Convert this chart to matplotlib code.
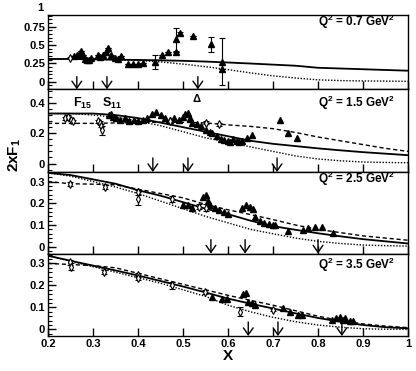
import matplotlib
matplotlib.use("Agg")
import matplotlib.pyplot as plt
from matplotlib.ticker import MultipleLocator

plt.rcParams['font.family'] = 'Liberation Sans'
plt.rcParams['font.weight'] = 'bold'
plt.rcParams['mathtext.fontset'] = 'custom'
plt.rcParams['mathtext.rm'] = 'Liberation Sans:bold'
plt.rcParams['mathtext.bf'] = 'Liberation Sans:bold'
plt.rcParams['mathtext.it'] = 'Liberation Sans:bold'

# ---- data ----
q2_labels = ["0.7", "1.5", "2.5", "3.5"]

curve_x = [0.2, 0.25, 0.3, 0.35, 0.4, 0.45, 0.5, 0.55, 0.6, 0.65, 0.7, 0.75, 0.8, 0.85, 0.9, 0.95, 1.0]

solid1 = [0.31, 0.31, 0.305, 0.30, 0.297, 0.292, 0.285, 0.275, 0.262, 0.248, 0.233, 0.218, 0.19, 0.18, 0.17, 0.16, 0.15]
dotted1 = [0.31, 0.31, 0.305, 0.30, 0.29, 0.27, 0.24, 0.205, 0.165, 0.12, 0.08, 0.05, 0.025, 0.015, 0.01, 0.008, 0.005]

solid2 = [0.33, 0.33, 0.33, 0.32, 0.30, 0.27, 0.24, 0.21, 0.18, 0.15, 0.13, 0.115, 0.10, 0.087, 0.075, 0.065, 0.055]
dashed2 = [0.265, 0.265, 0.265, 0.268, 0.27, 0.272, 0.272, 0.268, 0.255, 0.245, 0.23, 0.205, 0.175, 0.15, 0.125, 0.10, 0.08]
dotted2 = [0.33, 0.33, 0.32, 0.305, 0.28, 0.25, 0.21, 0.17, 0.14, 0.11, 0.08, 0.05, 0.03, 0.018, 0.01, 0.007, 0.005]

solid3 = [0.34, 0.33, 0.31, 0.29, 0.26, 0.235, 0.205, 0.175, 0.15, 0.12, 0.095, 0.078, 0.062, 0.048, 0.035, 0.025, 0.015]
dashed3 = [0.30, 0.29, 0.288, 0.285, 0.265, 0.245, 0.225, 0.195, 0.17, 0.148, 0.125, 0.10, 0.08, 0.065, 0.05, 0.04, 0.03]
dotted3 = [0.34, 0.325, 0.30, 0.275, 0.245, 0.21, 0.175, 0.14, 0.11, 0.08, 0.06, 0.04, 0.025, 0.015, 0.008, 0.005, 0.003]

solid4 = [0.335, 0.312, 0.29, 0.268, 0.245, 0.22, 0.195, 0.168, 0.14, 0.117, 0.095, 0.073, 0.052, 0.035, 0.02, 0.01, 0.005]
dashed4 = [0.30, 0.295, 0.29, 0.28, 0.255, 0.23, 0.205, 0.18, 0.155, 0.132, 0.11, 0.085, 0.06, 0.04, 0.025, 0.015, 0.008]
dotted4 = [0.335, 0.31, 0.285, 0.26, 0.235, 0.21, 0.18, 0.15, 0.11, 0.08, 0.055, 0.035, 0.02, 0.01, 0.003, 0.001, 0.0]

tri_x1 = [0.258, 0.264, 0.27, 0.274, 0.278, 0.282, 0.286, 0.29, 0.296, 0.31, 0.316, 0.322, 0.328, 0.334, 0.34,
          0.348, 0.355, 0.362, 0.378, 0.389, 0.40, 0.411, 0.438, 0.453, 0.467, 0.484, 0.484, 0.493, 0.522,
          0.562, 0.587, 0.587]
tri_y1 = [0.35, 0.37, 0.39, 0.42, 0.36, 0.31, 0.29, 0.30, 0.32, 0.36, 0.34, 0.37, 0.41, 0.46, 0.36,
          0.33, 0.31, 0.35, 0.24, 0.24, 0.24, 0.26, 0.27, 0.36, 0.40, 0.58, 0.41, 0.66, 0.62,
          0.51, 0.27, 0.17]
tri_e1 = [0, 0, 0, 0, 0, 0, 0, 0, 0, 0, 0, 0, 0, 0, 0,
          0, 0, 0, 0, 0, 0, 0, 0.09, 0, 0, 0.16, 0, 0.02, 0,
          0.1, 0.32, 0]
dia_x1 = [0.249]
dia_y1 = [0.33]
dia_e1 = [0.01]

tri_x2 = [0.335, 0.34, 0.345, 0.35, 0.36, 0.37, 0.38, 0.39, 0.40, 0.41, 0.42, 0.43, 0.44, 0.45, 0.46,
          0.47, 0.48, 0.49, 0.50, 0.505, 0.51, 0.515, 0.52, 0.53, 0.54, 0.55, 0.56, 0.565, 0.575,
          0.585, 0.59, 0.60, 0.605, 0.61, 0.62, 0.625, 0.63, 0.642, 0.653, 0.716, 0.734, 0.753]
tri_y2 = [0.32, 0.33, 0.31, 0.30, 0.29, 0.30, 0.28, 0.29, 0.28, 0.29, 0.30, 0.33, 0.34, 0.32, 0.30,
          0.29, 0.30, 0.29, 0.31, 0.33, 0.335, 0.30, 0.27, 0.26, 0.245, 0.22, 0.21, 0.20, 0.18,
          0.16, 0.155, 0.15, 0.145, 0.16, 0.15, 0.14, 0.15, 0.17, 0.19, 0.29, 0.20, 0.17]
dia_x2 = [0.238, 0.244, 0.25, 0.256, 0.31, 0.316, 0.318, 0.32, 0.47, 0.55, 0.58]
dia_y2 = [0.30, 0.31, 0.29, 0.28, 0.28, 0.27, 0.25, 0.22, 0.28, 0.27, 0.26]
dia_e2 = [0.01, 0.01, 0.01, 0.01, 0.01, 0.01, 0.01, 0.03, 0.01, 0.01, 0.01]

tri_x3 = [0.50, 0.51, 0.52, 0.545, 0.55, 0.555, 0.56, 0.57, 0.58, 0.59, 0.60, 0.632, 0.64, 0.648,
          0.655, 0.66, 0.67, 0.68, 0.69, 0.70, 0.705, 0.733, 0.767, 0.778, 0.793, 0.808, 0.834]
tri_y3 = [0.19, 0.19, 0.18, 0.23, 0.24, 0.21, 0.19, 0.18, 0.17, 0.16, 0.15, 0.18, 0.19, 0.185,
          0.175, 0.135, 0.12, 0.11, 0.105, 0.10, 0.10, 0.072, 0.077, 0.085, 0.09, 0.092, 0.062]
dia_x3 = [0.249, 0.327, 0.40, 0.40, 0.475, 0.535, 0.55]
dia_y3 = [0.288, 0.276, 0.25, 0.22, 0.22, 0.185, 0.18]
dia_e3 = [0.01, 0.01, 0.01, 0.03, 0.015, 0.01, 0.015]

tri_x4 = [0.564, 0.587, 0.598, 0.634, 0.64, 0.645, 0.653, 0.66, 0.723, 0.738, 0.756, 0.764,
          0.83, 0.84, 0.848, 0.855, 0.86, 0.87, 0.877]
tri_y4 = [0.148, 0.14, 0.138, 0.16, 0.165, 0.125, 0.118, 0.11, 0.098, 0.08, 0.065, 0.065,
          0.045, 0.05, 0.055, 0.045, 0.05, 0.04, 0.04]
dia_x4 = [0.248, 0.25, 0.325, 0.40, 0.40, 0.475, 0.549, 0.627, 0.70]
dia_y4 = [0.305, 0.285, 0.262, 0.247, 0.233, 0.20, 0.171, 0.08, 0.088]
dia_e4 = [0.01, 0.015, 0.01, 0.01, 0.01, 0.015, 0.01, 0.02, 0.005]

arrows1 = [0.264, 0.331, 0.533]
arrows2 = [0.433, 0.511, 0.709]
arrows3 = [0.562, 0.638, 0.80]
arrows4 = [0.645, 0.711, 0.853]

xtick_vals = [0.2, 0.3, 0.4, 0.5, 0.6, 0.7, 0.8, 0.9, 1.0]
xtick_text = ["0.2", "0.3", "0.4", "0.5", "0.6", "0.7", "0.8", "0.9", "1"]

panels = [
    dict(solid=solid1, dashed=None, dotted=dotted1, tx=tri_x1, ty=tri_y1, te=tri_e1,
         dx=dia_x1, dy=dia_y1, de=dia_e1, arrows=arrows1,
         ylim=(-0.104, 0.911), minor=0.05, yticks=[0, 0.25, 0.5, 0.75],
         ylabels=["0", "0.25", "0.5", "0.75"], box=(0.1154, 0.7593, 0.8654, 0.2003), qy=0.906),
    dict(solid=solid2, dashed=dashed2, dotted=dotted2, tx=tri_x2, ty=tri_y2, te=None,
         dx=dia_x2, dy=dia_y2, de=dia_e2, arrows=arrows2,
         ylim=(-0.056, 0.49), minor=0.04, yticks=[0, 0.2, 0.4],
         ylabels=["0", "0.2", "0.4"], box=(0.1154, 0.5364, 0.8654, 0.2229), qy=0.834),
    dict(solid=solid3, dashed=dashed3, dotted=dotted3, tx=tri_x3, ty=tri_y3, te=None,
         dx=dia_x3, dy=dia_y3, de=dia_e3, arrows=arrows3,
         ylim=(-0.031, 0.344), minor=0.02, yticks=[0, 0.1, 0.2, 0.3],
         ylabels=["0", "0.1", "0.2", "0.3"], box=(0.1154, 0.3167, 0.8654, 0.2197), qy=0.914),
    dict(solid=solid4, dashed=dashed4, dotted=dotted4, tx=tri_x4, ty=tri_y4, te=None,
         dx=dia_x4, dy=dia_y4, de=dia_e4, arrows=arrows4,
         ylim=(-0.03, 0.345), minor=0.02, yticks=[0, 0.1, 0.2, 0.3],
         ylabels=["0", "0.1", "0.2", "0.3"], box=(0.1154, 0.0943, 0.8654, 0.2224), qy=0.86),
]

fig = plt.figure(figsize=(4.16, 3.71), dpi=100)

for i, p in enumerate(panels):
    ax = fig.add_axes(p['box'])
    ax.set_xlim(0.2, 1.0)
    ax.set_ylim(*p['ylim'])

    ax.plot(curve_x, p['solid'], color='black', lw=1.3, zorder=2)
    if p['dashed'] is not None:
        ax.plot(curve_x, p['dashed'], color='black', lw=1.0, dashes=(3, 2), zorder=2)
    ax.plot(curve_x, p['dotted'], color='black', lw=1.0, ls=(0, (1, 1.2)), zorder=2)

    if p['te'] is not None:
        ax.errorbar(p['tx'], p['ty'], yerr=p['te'], fmt='^', color='black', ms=5,
                    capsize=2.5, elinewidth=0.8, capthick=0.8, zorder=3)
    else:
        ax.plot(p['tx'], p['ty'], '^', color='black', ms=5, zorder=3)
    ax.errorbar(p['dx'], p['dy'], yerr=p['de'], fmt='d', color='black', mfc='white',
                ms=4, mew=0.8, capsize=2.2, elinewidth=0.8, capthick=0.8, zorder=4)

    for xa in p['arrows']:
        ax.annotate('', xy=(xa, 0.0), xycoords=('data', 'axes fraction'),
                    xytext=(xa, 0.17), textcoords=('data', 'axes fraction'),
                    arrowprops=dict(arrowstyle='->, head_length=0.5, head_width=0.35',
                                    color='black', lw=1.0, shrinkA=0, shrinkB=0))

    ax.set_xticks(xtick_vals)
    if i == 3:
        ax.set_xticklabels(xtick_text)
    else:
        ax.set_xticklabels([])
    ax.tick_params(axis='x', direction='in', length=6, width=1, top=False,
                   labelsize=8, pad=2)

    ax.set_yticks(p['yticks'])
    ax.set_yticklabels(p['ylabels'])
    ax.yaxis.set_minor_locator(MultipleLocator(p['minor']))
    ax.tick_params(axis='y', which='major', direction='in', length=6, width=1,
                   labelsize=8, pad=2, right=False)
    ax.tick_params(axis='y', which='minor', direction='in', length=3, width=0.8, right=False)
    for lab in ax.get_xticklabels() + ax.get_yticklabels():
        lab.set_fontweight('bold')
    for s in ax.spines.values():
        s.set_linewidth(1.0)

    ax.text(0.858, p['qy'], r"$\mathregular{Q^2}$ = " + q2_labels[i] + r" GeV$\mathregular{^2}$",
            transform=ax.transAxes, ha='center', va='center', fontsize=8.5, fontweight='bold')

    if i == 0:
        ax.text(-0.014, 1.0, "1", transform=ax.get_yaxis_transform(), ha='right',
                va='center', fontsize=8, fontweight='bold', clip_on=False)
    if i == 1:
        ax.text(0.276, 0.834, r"F$_{\mathregular{15}}$", transform=ax.get_xaxis_transform(),
                ha='center', va='center', fontsize=9, fontweight='bold')
        ax.text(0.342, 0.834, r"S$_{\mathregular{11}}$", transform=ax.get_xaxis_transform(),
                ha='center', va='center', fontsize=9, fontweight='bold')
        ax.text(0.531, 0.877, "\u0394", transform=ax.get_xaxis_transform(),
                ha='center', va='center', fontsize=8, fontweight='bold')

fig.text(0.036, 1 - 155 / 371, r"2xF$_{\mathregular{1}}$", rotation=90, ha='center',
         va='center', fontsize=11, fontweight='bold')
fig.text(228 / 416, 1 - 356 / 371, "X", ha='center', va='center', fontsize=11,
         fontweight='bold')

fig.savefig("out.png", dpi=100)
